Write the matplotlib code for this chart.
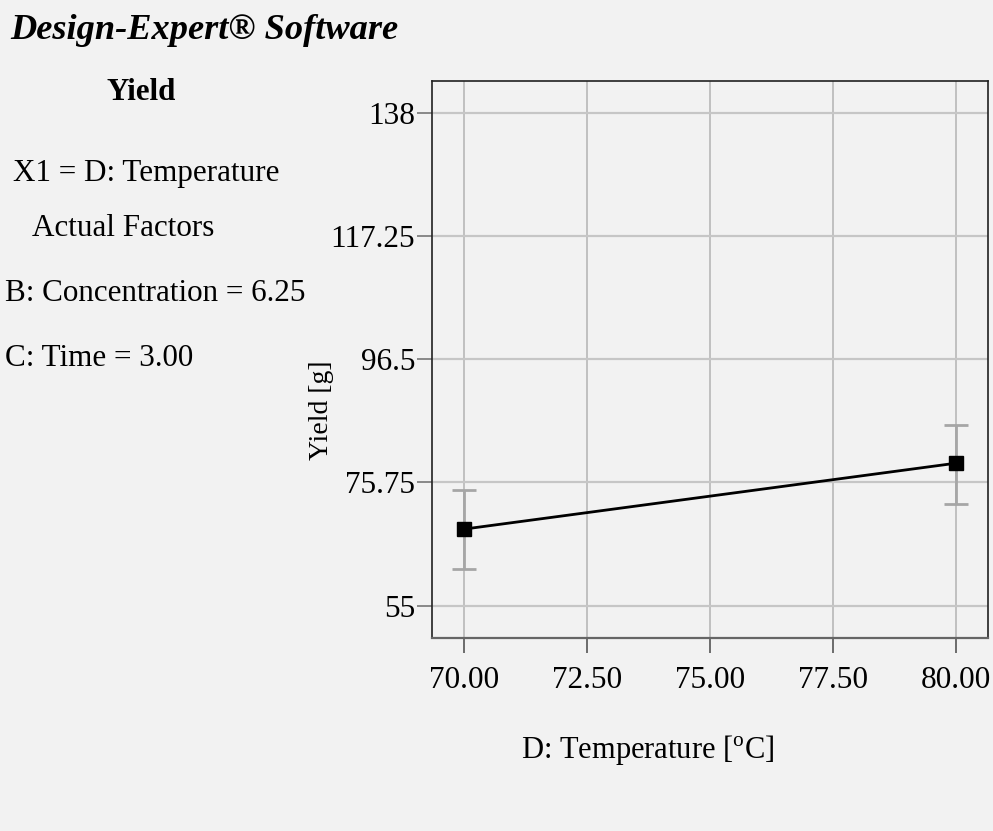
import matplotlib
matplotlib.use("Agg")
import matplotlib.pyplot as plt

plt.rcParams['font.family'] = ['Liberation Serif', 'DejaVu Serif']
plt.rcParams['mathtext.fontset'] = 'custom'
plt.rcParams['mathtext.rm'] = 'Liberation Serif'

# One-factor effect: predicted yield at the two temperature levels
temperature = [70.0, 80.0]
yield_pred = [67.9, 79.0]
yield_low = [61.2, 72.1]
yield_high = [74.5, 85.4]

x_ticks = [70.0, 72.5, 75.0, 77.5, 80.0]
x_tick_labels = ['70.00', '72.50', '75.00', '77.50', '80.00']
y_ticks = [55, 75.75, 96.5, 117.25, 138]
y_tick_labels = ['55', '75.75', '96.5', '117.25', '138']

W, H = 993, 831
bg = '#f2f2f2'
fig = plt.figure(figsize=(W / 100, H / 100), dpi=100, facecolor=bg)
ax = fig.add_axes([432 / W, 1 - 638 / H, (988 - 432) / W, (638 - 81) / H])
ax.set_facecolor(bg)

err_lo = [p - lo for p, lo in zip(yield_pred, yield_low)]
err_hi = [hi - p for p, hi in zip(yield_pred, yield_high)]
ax.errorbar(temperature, yield_pred, yerr=[err_lo, err_hi], fmt='none',
            ecolor='#a6a6a6', elinewidth=2, capsize=8.6, capthick=2, zorder=3)
ax.plot(temperature, yield_pred, color='black', lw=2, marker='s',
        markersize=9.5, zorder=4)

ax.set_xlim(69.344, 80.644)
ax.set_ylim(49.56, 143.34)
ax.set_xticks(x_ticks)
ax.set_xticklabels(x_tick_labels)
ax.set_yticks(y_ticks)
ax.set_yticklabels(y_tick_labels)
ax.tick_params(axis='both', labelsize=22.5, length=10.8, width=1.2)
ax.tick_params(axis='x', pad=9, color='#555555')
ax.tick_params(axis='y', pad=1.4, color='#777777')
ax.xaxis.grid(True, color='#b8b8b8', lw=1.2)
ax.yaxis.grid(True, color='#c6c6c6', lw=1.6)
ax.set_axisbelow(True)
for side in ['top', 'right', 'left']:
    ax.spines[side].set_color('#222222')
    ax.spines[side].set_linewidth(1.2)
ax.spines['bottom'].set_color('#666666')
ax.spines['bottom'].set_linewidth(1.6)

# Axis titles placed in figure pixels
fig.text(648 / W, 1 - 758 / H, 'D: Temperature [$^{\\mathrm{o}}$C]', fontsize=22,
         ha='center', va='baseline')
fig.text(322 / W, 1 - 410 / H, 'Yield [g]', fontsize=20, rotation=90,
         ha='center', va='center')

# Side panel text
fig.text(10 / W, 1 - 39 / H, 'Design-Expert® Software', fontsize=26.2,
         fontweight='bold', fontstyle='italic', va='baseline', ha='left')
fig.text(141 / W, 1 - 100 / H, 'Yield', fontsize=22.3, fontweight='bold',
         va='baseline', ha='center')
fig.text(13 / W, 1 - 181 / H, 'X1 = D: Temperature', fontsize=22.4, va='baseline')
fig.text(32 / W, 1 - 236 / H, 'Actual Factors', fontsize=22.4, va='baseline')
fig.text(5 / W, 1 - 301 / H, 'B: Concentration = 6.25', fontsize=22.4, va='baseline')
fig.text(5 / W, 1 - 366 / H, 'C: Time = 3.00', fontsize=22.4, va='baseline')

fig.savefig('out.png', dpi=100, facecolor=bg)
